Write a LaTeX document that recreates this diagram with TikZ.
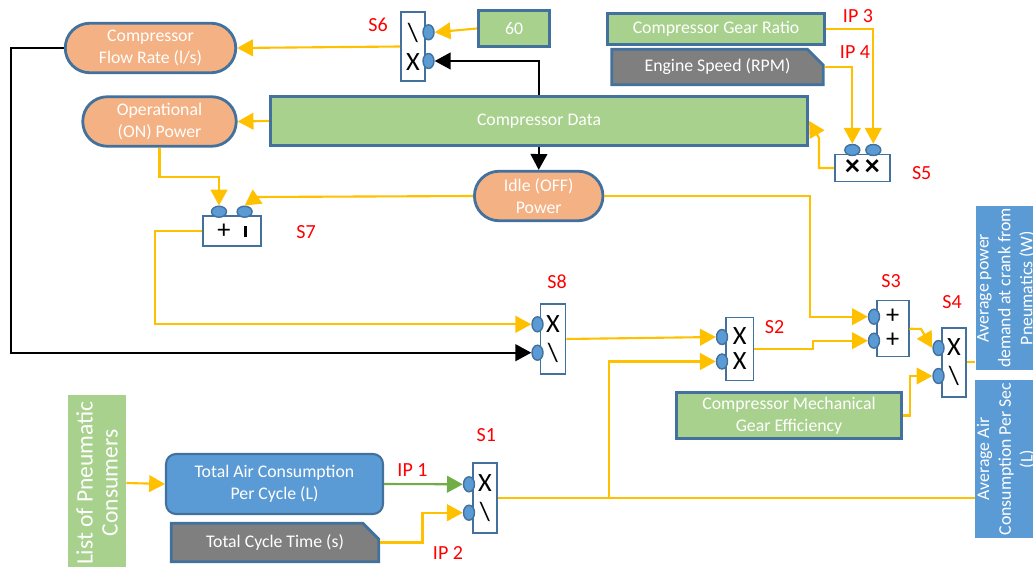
\documentclass[tikz,border=0pt]{standalone}
\usepackage{fontspec}
\setmainfont{Carlito}
\usepackage{color}
\definecolor{light-orange}{RGB}{244,177,131}
\definecolor{light-green}{RGB}{169,209,142}
\definecolor{frame-blue}{RGB}{65,113,156}
\definecolor{port-blue}{RGB}{91,155,213}
\definecolor{dark-gray}{RGB}{127,127,127}
\definecolor{gold-yellow}{RGB}{255,192,0}
\definecolor{arrow-green}{RGB}{112,173,71}
\definecolor{tag-red}{RGB}{255,0,0}
\usepackage{tikz}
\usetikzlibrary{shapes.geometric,shapes.misc,arrows.meta}

\begin{document}
\begin{tikzpicture}
[
  x=0.02cm, y=-0.02cm,
  every node/.style={font=\fontsize{10.1}{12.4}\selectfont},
  pill/.style={rectangle,rounded corners=0.49cm,draw=frame-blue,line width=1.6pt,fill=light-orange,text=white,align=center,minimum height=0.99cm,inner sep=2pt},
  greenbox/.style={rectangle,draw=frame-blue,line width=1.6pt,fill=light-green,text=white,align=center,inner sep=2pt},
  graybox/.style={chamfered rectangle,chamfered rectangle corners=north east,chamfered rectangle xsep=4.5pt,chamfered rectangle ysep=4.5pt,draw=frame-blue,line width=1.6pt,fill=dark-gray,text=white,inner sep=1pt},
  bluebox/.style={rectangle,fill=port-blue,text=white,align=center,inner sep=1pt},
  listbox/.style={rectangle,fill=light-green,text=white,align=center,font=\fontsize{13.4}{14.2}\selectfont,minimum width=3.44cm,minimum height=1.16cm},
  sbox/.style={rectangle,draw=frame-blue,line width=0.9pt,fill=white,align=center,inner sep=0pt,font=\fontsize{15}{16.5}\selectfont},
  vport/.style={ellipse,draw=frame-blue,line width=0.8pt,fill=port-blue,minimum width=0.22cm,minimum height=0.3cm,inner sep=0pt},
  hport/.style={ellipse,draw=frame-blue,line width=0.8pt,fill=port-blue,minimum width=0.3cm,minimum height=0.22cm,inner sep=0pt},
  tag/.style={text=tag-red,font=\fontsize{11.4}{13}\selectfont},
  yline/.style={draw=gold-yellow,line width=1.2pt},
  yarrow/.style={draw=gold-yellow,line width=1.2pt,-{Triangle[length=9pt,width=9.5pt,fill=gold-yellow]}},
  barrow/.style={draw=black,line width=1pt,-{Triangle[length=9pt,width=9.5pt]}},
  garrow/.style={draw=arrow-green,line width=1.2pt,-{Triangle[length=9pt,width=9.5pt,fill=arrow-green]}},
]
\useasboundingbox (0,0) rectangle (1033,567);

\node[pill,minimum width=3.41cm] (flow) at (150.5,48) {Compressor\\Flow Rate (l/s)};
\node[pill,minimum width=3.07cm] (oper) at (159.5,121.5) {Operational\\(ON) Power};
\node[greenbox,minimum width=10.75cm,minimum height=0.99cm] (data) at (539,121) {Compressor Data};
\node[pill,minimum width=2.57cm] (idle) at (538.7,196) {Idle (OFF)\\Power};
\node[greenbox,minimum width=1.43cm,minimum height=0.73cm] (sixty) at (514,28.5) {60};
\node[greenbox,minimum width=4.33cm,minimum height=0.61cm] (ratio) at (716,29) {Compressor Gear Ratio};
\node[graybox,minimum width=4.23cm,minimum height=0.55cm] (speed) at (717.5,67) {Engine Speed (RPM)};
\node[greenbox,minimum width=4.49cm,minimum height=0.93cm] (eff) at (789,415.5) {Compressor Mechanical\\Gear Efficiency};
\node[bluebox,draw=frame-blue,line width=1.2pt,rounded corners=0.2cm,minimum width=4.34cm,minimum height=1.2cm] (tac) at (274.5,484) {Total Air Consumption\\Per Cycle (L)};
\node[graybox,minimum width=4.15cm,minimum height=0.77cm] (cycle) at (275,542.5) {Total Cycle Time (s)};
\node[listbox,rotate=90] (list) at (97,483) {List of Pneumatic\\Consumers};
\node[bluebox,rotate=90,minimum width=3.28cm,minimum height=1.2cm] (power) at (1006,288) {Average power\\demand at crank from\\Pneumatics (W)};
\node[bluebox,rotate=90,minimum width=3.16cm,minimum height=1.2cm] (air) at (1006,459) {Average Air\\Consumption Per Sec\\(L)};

\node[sbox,minimum width=0.48cm,minimum height=1.38cm] (s6) at (413,46.5) {\textbackslash\\X};
\node[sbox,minimum width=1.1cm,minimum height=0.54cm,font=\fontsize{17}{17}\bfseries] (s5) at (862.5,168) {×\,×};
\node[sbox,minimum width=1.16cm,minimum height=0.6cm] (s7) at (232,231) {+\enspace\rule[0.5pt]{1.6pt}{6.5pt}};
\node[sbox,minimum width=0.5cm,minimum height=1.4cm] (s8) at (553,339) {X\\\textbackslash};
\node[sbox,minimum width=0.55cm,minimum height=1.26cm,font=\fontsize{15}{14.2}\selectfont] (s2) at (739.7,349) {X\\X};
\node[sbox,minimum width=0.64cm,minimum height=1.12cm,font=\fontsize{15}{13.7}\selectfont] (s3) at (892.7,328.7) {+\\+};
\node[sbox,minimum width=0.48cm,minimum height=1.38cm] (s4) at (954,362.3) {X\\\textbackslash};
\node[sbox,minimum width=0.49cm,minimum height=1.4cm] (s1) at (485,498) {X\\\textbackslash};

\node[vport] (s6a) at (428.5,32.3) {};
\node[vport] (s6b) at (428.5,61) {};
\node[hport] (s5a) at (852.3,150) {};
\node[hport] (s5b) at (873.3,150) {};
\node[hport] (s7a) at (219,211.7) {};
\node[hport] (s7b) at (244.6,211.7) {};
\node[vport] (s8a) at (537.5,324.3) {};
\node[vport] (s8b) at (537.5,352.7) {};
\node[vport] (s2a) at (722,337) {};
\node[vport] (s2b) at (722,361.5) {};
\node[vport] (s3a) at (874,316.7) {};
\node[vport] (s3b) at (874,340.7) {};
\node[vport] (s4a) at (938.5,348) {};
\node[vport] (s4b) at (938.5,376) {};
\node[vport] (s1a) at (469,484.3) {};
\node[vport] (s1b) at (469,512.7) {};

\node[tag] (t6) at (378,25) {S6};
\node[tag] (t5) at (921.7,173) {S5};
\node[tag] (t7) at (306,232) {S7};
\node[tag] (t8) at (557,282) {S8};
\node[tag] (t2) at (774.5,327) {S2};
\node[tag] (t3) at (891,281) {S3};
\node[tag] (t4) at (952,302) {S4};
\node[tag] (t1) at (486.4,435) {S1};
\node[tag] (ip1) at (412.5,470) {IP 1};
\node[tag] (ip2) at (448,553) {IP 2};
\node[tag] (ip3) at (858,16) {IP 3};
\node[tag] (ip4) at (855,52) {IP 4};

\draw[yarrow] (sixty.west) -- (s6a.east);
\draw[barrow] (data.north) |- (s6b.east);
\draw[yarrow] (s6.west) -- (flow.east);
\draw[yarrow] (data.west) -- (oper.east);
\draw[barrow] (data.south) -- (idle.north);
\draw[yarrow] (oper.south) |- (219,177) -- (s7a.north);
\draw[yarrow] (idle.west) -- (257,197) -- (s7b.north);
\draw[yarrow] (s7.west) -- (155,231) |- (s8a.west);
\draw[barrow] (flow.west) -- (11,48) |- (s8b.west);
\draw[yarrow] (s8.east) -- (s2a.west);
\coordinate (j1) at (609,498);
\draw[yline] (s1.east) -- (j1) -- (j1 -| air.north);
\draw[yarrow] (j1) |- (s2b.west);
\draw[yarrow] (s2.east) -- (813,349) |- (s3b.west);
\draw[yarrow] (idle.east) -- (810,196) |- (s3a.west);
\draw[yarrow] (s3.east) -- (921,329) -- (s4a.west);
\draw[yarrow] (eff.east) -- (910,415.5) |- (s4b.west);
\draw[yline] (s4.east) -- (s4.east -| power.north);
\draw[yarrow] (s5.west) -- (819,168) -- (819,138) -- (data.east);
\draw[yarrow] (ratio.east) -| (s5b.north);
\draw[yarrow] (speed.east) -| (s5a.north);
\draw[garrow] (tac.east) -- (s1a.west);
\draw[yarrow] (cycle.east) -- (422.5,542.5) |- (s1b.west);
\draw[yarrow] (list.south) -- (tac.west);
\end{tikzpicture}
\end{document}
